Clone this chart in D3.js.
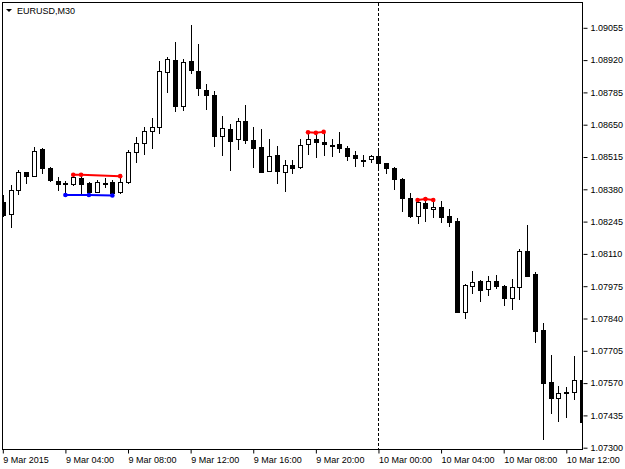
<!DOCTYPE html>
<html>
<head>
<meta charset="utf-8">
<script src="https://cdn.jsdelivr.net/npm/d3@7"></script>
<style>
html, body { margin: 0; padding: 0; background: #fff; }
svg { display: block; font-family: "Liberation Sans", Arial, sans-serif; }
</style>
</head>
<body>
<div id="chart"></div>
<script>
const symbolTitle = "EURUSD,M30";

// 30 minute bars, 9 Mar 2015 00:00 .. 10 Mar 2015 13:00
const opens = [
  1.08328, 1.08276, 1.08375, 1.08451, 1.08437, 1.08547, 1.08468, 1.08416, 1.08406, 1.08401,
  1.08426, 1.08405, 1.08370, 1.08403, 1.08411, 1.08369, 1.08412, 1.08534, 1.08572, 1.08623,
  1.08639, 1.08871, 1.08920, 1.08728, 1.08917, 1.08876, 1.08795, 1.08774, 1.08604, 1.08631,
  1.08589, 1.08665, 1.08586, 1.08555, 1.08457, 1.08523, 1.08453, 1.08481, 1.08472, 1.08569,
  1.08589, 1.08579, 1.08566, 1.08569, 1.08554, 1.08523, 1.08503, 1.08505, 1.08520, 1.08488,
  1.08469, 1.08422, 1.08345, 1.08269, 1.08321, 1.08296, 1.08305, 1.08268, 1.08248, 1.07868,
  1.07977, 1.07997, 1.07962, 1.07998, 1.07976, 1.07927, 1.07970, 1.08122, 1.08025, 1.07792,
  1.07574, 1.07506, 1.07528, 1.07534, 1.07583
];
const highs = [
  1.08356, 1.08398, 1.08462, 1.08452, 1.08558, 1.08552, 1.08474, 1.08432, 1.08414, 1.08441,
  1.08441, 1.08411, 1.08419, 1.08426, 1.08419, 1.08435, 1.08544, 1.08597, 1.08640, 1.08676,
  1.08917, 1.08931, 1.08995, 1.08923, 1.09067, 1.08987, 1.08820, 1.08792, 1.08685, 1.08653,
  1.08678, 1.08732, 1.08641, 1.08632, 1.08590, 1.08562, 1.08502, 1.08502, 1.08589, 1.08618,
  1.08616, 1.08620, 1.08589, 1.08620, 1.08559, 1.08540, 1.08523, 1.08523, 1.08551, 1.08490,
  1.08475, 1.08427, 1.08363, 1.08335, 1.08339, 1.08335, 1.08331, 1.08297, 1.08258, 1.07984,
  1.08040, 1.08001, 1.08018, 1.08022, 1.07980, 1.08004, 1.08130, 1.08231, 1.08035, 1.07822,
  1.07687, 1.07556, 1.07554, 1.07683, 1.07632
];
const lows = [
  1.08268, 1.08222, 1.08360, 1.08407, 1.08435, 1.08449, 1.08415, 1.08377, 1.08356, 1.08398,
  1.08366, 1.08356, 1.08367, 1.08391, 1.08354, 1.08364, 1.08406, 1.08493, 1.08527, 1.08551,
  1.08614, 1.08788, 1.08708, 1.08711, 1.08867, 1.08774, 1.08714, 1.08563, 1.08523, 1.08460,
  1.08548, 1.08572, 1.08474, 1.08452, 1.08456, 1.08407, 1.08374, 1.08447, 1.08469, 1.08527,
  1.08516, 1.08523, 1.08519, 1.08537, 1.08502, 1.08478, 1.08478, 1.08495, 1.08468, 1.08447,
  1.08380, 1.08290, 1.08263, 1.08240, 1.08249, 1.08263, 1.08244, 1.08228, 1.07867, 1.07841,
  1.07945, 1.07914, 1.07938, 1.07966, 1.07896, 1.07878, 1.07920, 1.08017, 1.07743, 1.07336,
  1.07443, 1.07413, 1.07427, 1.07502, 1.07381
];
const closes = [
  1.08272, 1.08377, 1.08453, 1.08437, 1.08541, 1.08468, 1.08419, 1.08401, 1.08404, 1.08432,
  1.08401, 1.08370, 1.08411, 1.08407, 1.08366, 1.08412, 1.08534, 1.08572, 1.08623, 1.08639,
  1.08876, 1.08923, 1.08728, 1.08913, 1.08878, 1.08802, 1.08774, 1.08604, 1.08635, 1.08582,
  1.08665, 1.08584, 1.08551, 1.08453, 1.08519, 1.08457, 1.08481, 1.08471, 1.08565, 1.08589,
  1.08576, 1.08569, 1.08564, 1.08554, 1.08519, 1.08509, 1.08501, 1.08520, 1.08488, 1.08468,
  1.08422, 1.08345, 1.08269, 1.08328, 1.08300, 1.08305, 1.08265, 1.08244, 1.07868, 1.07980,
  1.07991, 1.07959, 1.07998, 1.07976, 1.07927, 1.07970, 1.08122, 1.08019, 1.07789, 1.07571,
  1.07506, 1.07530, 1.07532, 1.07583, 1.07406
];

const timeTickBars = [0, 8, 16, 24, 32, 40, 48, 56, 64, 72];
const timeLabels = ["9 Mar 2015", "9 Mar 04:00", "9 Mar 08:00", "9 Mar 12:00", "9 Mar 16:00",
  "9 Mar 20:00", "10 Mar 00:00", "10 Mar 04:00", "10 Mar 08:00", "10 Mar 12:00"];
const priceTicks = [1.07300, 1.07435, 1.07570, 1.07705, 1.07840, 1.07975, 1.08110,
  1.08245, 1.08380, 1.08515, 1.08650, 1.08785, 1.08920, 1.09055];
const dayStartBar = 48;

// pattern markers (bar index, price)
const topLineA_bars = [9, 10, 15];
const topLineA_vals = [1.08441, 1.08441, 1.08435];
const bottomLine_bars = [8, 11, 14];
const bottomLine_vals = [1.08356, 1.08356, 1.08354];
const topLineB_bars = [39, 40, 41];
const topLineB_vals = [1.08618, 1.08616, 1.08620];
const topLineC_bars = [53, 54, 55];
const topLineC_vals = [1.08335, 1.08339, 1.08335];

const W = 625, H = 469;
const plotL = 2.5, plotR = 582.5, plotT = 2.5, plotB = 449.5;

const svg = d3.select("#chart")
  .append("svg")
    .attr("width", W)
    .attr("height", H);

const x = d3.scaleLinear().domain([0, 72]).range([2.8, 566.3]);
const y = d3.scaleLinear().domain([1.07300, 1.09055]).range([447.7, 27.8]);

svg.append("clipPath").attr("id", "plot-clip")
  .append("rect")
    .attr("x", plotL).attr("y", plotT)
    .attr("width", plotR - plotL).attr("height", plotB - plotT);

const bars = opens.map((o, i) => ({
  i: i, o: o, h: highs[i], l: lows[i], c: closes[i]
}));

const plot = svg.append("g").attr("clip-path", "url(#plot-clip)");

// day separator
plot.append("line")
  .attr("x1", Math.round(x(dayStartBar)) + 0.5)
  .attr("x2", Math.round(x(dayStartBar)) + 0.5)
  .attr("y1", plotT).attr("y2", plotB)
  .attr("stroke", "#000")
  .attr("stroke-dasharray", "3,2")
  .attr("shape-rendering", "crispEdges");

// wicks
plot.selectAll(".wick")
  .data(bars)
  .join("line")
    .attr("class", "wick")
    .attr("x1", d => Math.round(x(d.i)) + 0.5)
    .attr("x2", d => Math.round(x(d.i)) + 0.5)
    .attr("y1", d => Math.round(y(d.h)))
    .attr("y2", d => Math.round(y(d.l)) + 1)
    .attr("stroke", "#000")
    .attr("shape-rendering", "crispEdges");

// bodies
plot.selectAll(".body")
  .data(bars)
  .join("rect")
    .attr("class", "body")
    .attr("x", d => Math.round(x(d.i)) - 1.5)
    .attr("y", d => Math.round(y(Math.max(d.o, d.c))) + 0.5)
    .attr("width", 4)
    .attr("height", d => Math.max(1, Math.round(y(Math.min(d.o, d.c))) - Math.round(y(Math.max(d.o, d.c)))))
    .attr("fill", d => d.c > d.o ? "#fff" : "#000")
    .attr("stroke", "#000")
    .attr("shape-rendering", "crispEdges");

// pattern lines with dots
const markers = [
  { bars: topLineA_bars, vals: topLineA_vals, color: "#ff0000" },
  { bars: bottomLine_bars, vals: bottomLine_vals, color: "#0000ff" },
  { bars: topLineB_bars, vals: topLineB_vals, color: "#ff0000" },
  { bars: topLineC_bars, vals: topLineC_vals, color: "#ff0000" }
];
const markLine = d3.line().x(d => x(d[0])).y(d => y(d[1]));
markers.forEach(m => {
  const pts = m.bars.map((b, k) => [b, m.vals[k]]);
  plot.append("path")
    .attr("d", markLine(pts))
    .attr("fill", "none")
    .attr("stroke", m.color)
    .attr("stroke-width", 2);
  plot.selectAll(null)
    .data(pts)
    .join("circle")
      .attr("cx", d => x(d[0]))
      .attr("cy", d => y(d[1]))
      .attr("r", 2.3)
      .attr("fill", m.color);
});

// frame
svg.append("rect")
  .attr("x", plotL).attr("y", plotT)
  .attr("width", plotR - plotL).attr("height", plotB - plotT)
  .attr("fill", "none")
  .attr("stroke", "#000")
  .attr("shape-rendering", "crispEdges");

// price axis
const yAxis = svg.append("g")
  .attr("transform", `translate(${plotR + 1},0)`)
  .call(d3.axisRight(y)
    .tickValues(priceTicks)
    .tickSize(4)
    .tickPadding(3)
    .tickFormat(d3.format(".5f")));
yAxis.select(".domain").remove();
yAxis.selectAll("text").attr("font-size", 9).attr("fill", "#000").attr("font-family", "Liberation Sans, Arial, sans-serif");
yAxis.selectAll("line").attr("stroke", "#000");

// time axis
const xAxis = svg.append("g")
  .attr("transform", `translate(0,${plotB})`)
  .call(d3.axisBottom(x)
    .tickValues(timeTickBars)
    .tickSize(4)
    .tickPadding(3)
    .tickFormat((d, i) => timeLabels[i]));
xAxis.select(".domain").remove();
xAxis.selectAll("text")
  .attr("text-anchor", "start")
  .attr("font-size", 9)
  .attr("fill", "#000")
  .attr("font-family", "Liberation Sans, Arial, sans-serif");
xAxis.selectAll("line").attr("stroke", "#000");

// title
svg.append("path")
  .attr("d", "M6,9L12,9L9,12Z")
  .attr("fill", "#000");
svg.append("text")
  .attr("x", 17)
  .attr("y", 14)
  .attr("font-size", 9)
  .attr("fill", "#000")
  .text(symbolTitle);
</script>
</body>
</html>
